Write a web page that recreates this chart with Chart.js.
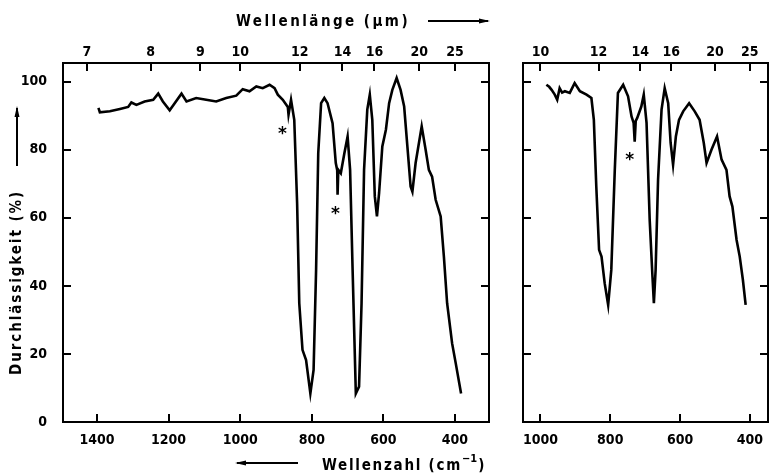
<!DOCTYPE html>
<html>
<head>
<meta charset="utf-8">
<script src="https://cdn.jsdelivr.net/npm/chart.js@4/dist/chart.umd.min.js"></script>
<style>
  html, body { margin: 0; padding: 0; background: #fff; }
  #wrap { position: relative; width: 769px; height: 474px; overflow: hidden; }
  canvas { position: absolute; top: 0; }
</style>
</head>
<body>
<div id="wrap">
  <canvas id="left" width="500" height="474" style="left:0"></canvas>
  <canvas id="right" width="269" height="474" style="left:500px"></canvas>
</div>
<script>
/* ---------- data ---------- */

// left spectrum: wavenumber (cm-1) / transmission (%)
const leftWavenumbers = [
  1396, 1392, 1364, 1336, 1313, 1304, 1290, 1267, 1243, 1229, 1216, 1197, 1183,
  1164, 1150, 1123, 1095, 1067, 1039, 1011, 993, 974, 955, 937, 918, 904, 895,
  881, 867, 865, 858, 849, 841, 835, 826, 816, 804, 795, 788, 782, 774, 765, 756,
  742, 733, 729, 728, 726, 719, 709, 700, 693, 686, 677, 668, 661, 654, 645, 638,
  631, 624, 618, 612, 603, 593, 584, 575, 563, 552, 542, 533, 524, 519, 510, 493,
  482, 473, 464, 454, 440, 431, 422, 408, 398, 383
];
const leftTransmission = [
  92.3, 91.0, 91.3, 92.0, 92.6, 93.9, 93.2, 94.2, 94.7, 96.5, 94.2, 91.6, 93.7,
  96.5, 94.2, 95.2, 94.7, 94.2, 95.2, 95.9, 97.8, 97.2, 98.6, 98.1, 99.1, 98.1, 96.2,
  94.7, 92.6, 90.3, 94.7, 88.8, 64.3, 34.9, 21.2, 18.2, 8.4, 15.3, 44.7, 79, 93.7, 95.2, 93.7,
  87.8, 76.1, 74, 66.8, 74.1, 73.1, 79, 83.9, 74.1, 44.7, 8.4, 10.4, 34.9, 74.1, 91.8, 96.2,
  88.8, 66.3, 60.4, 67.3, 81, 85.9, 93.7, 97.6, 101.1, 97.6, 92.7, 81, 69.2, 67.7, 76.1, 86.9,
  80, 74.1, 72.1, 65.3, 60.4, 48.6, 34.9, 23.1, 17.3, 8.4
];

// right spectrum
const rightWavenumbers = [
  983, 975, 968, 959, 952, 945, 938, 930, 916, 902, 887, 868, 854, 847, 840, 832,
  825, 816, 806, 797, 787, 778, 763, 749, 739, 733, 730, 727, 723, 711, 704, 696,
  687, 679, 675, 670, 663, 653, 644, 634, 627, 620, 612, 603, 591, 574, 558, 544,
  532, 524, 510, 494, 481, 467, 458, 450, 438, 429, 420, 412
];
const rightTransmission = [
  99.1, 98.5, 97.6, 96.2, 94.7, 98.1, 96.8, 97.2, 96.7, 99.6, 97.2, 96.2, 95.2, 88.8, 69.2, 50.6,
  48.6, 40.8, 34.4, 44.7, 74.1, 96.7, 99.1, 95.7, 89.8, 87.9, 82.4, 88.5, 89.3, 92.7, 96.2, 87.9,
  59.4, 42.7, 34.9, 44.7, 71.2, 91.8, 98.1, 93.7, 82, 75.6, 83.9, 88.8, 91.3, 93.7, 91.3, 88.8,
  82, 76.1, 80, 83.9, 77.1, 74.1, 66.3, 63.3, 53.5, 48.6, 41.8, 34.4
];

// asterisks marking artefact bands
const leftStarWavenumbers = [882, 734];
const leftStarValues = [85.5, 62];
const rightStarWavenumbers = [744];
const rightStarValues = [77.8];

// tick labels
const leftWavenumberTicks = [1400, 1200, 1000, 800, 600, 400];
const rightWavenumberTicks = [1000, 800, 600, 400];
const leftWavelengthTicks = [7, 8, 9, 10, 12, 14, 16, 20, 25];
const rightWavelengthTicks = [10, 12, 14, 16, 20, 25];
const percentTicks = [0, 20, 40, 60, 80, 100];

/* ---------- drawing helpers ---------- */

const FONT = '"DejaVu Sans Condensed", "Liberation Sans Narrow", "DejaVu Sans", sans-serif';

function fitText(ctx, text, x, y, width) {
  ctx.letterSpacing = '0px';
  const w = ctx.measureText(text).width;
  const ls = (width - w) / text.length;
  ctx.letterSpacing = ls + 'px';
  ctx.fillText(text, x, y);
  const out = ctx.measureText(text).width;
  ctx.letterSpacing = '0px';
  return out;
}

function arrow(ctx, x1, y1, x2, y2) {
  const a = Math.atan2(y2 - y1, x2 - x1);
  ctx.beginPath();
  ctx.moveTo(x1, y1);
  ctx.lineTo(x2, y2);
  ctx.stroke();
  ctx.beginPath();
  ctx.moveTo(x2 + Math.cos(a) * 2, y2 + Math.sin(a) * 2);
  ctx.lineTo(x2 - Math.cos(a) * 9 - Math.sin(a) * 2.5, y2 - Math.sin(a) * 9 + Math.cos(a) * 2.5);
  ctx.lineTo(x2 - Math.cos(a) * 9 + Math.sin(a) * 2.5, y2 - Math.sin(a) * 9 - Math.cos(a) * 2.5);
  ctx.closePath();
  ctx.fill();
}

// frame, inward ticks on all four sides, asterisks
const frameAndTicks = {
  id: 'frameAndTicks',
  afterDatasetsDraw(chart, args, opts) {
    const {ctx, chartArea: a, scales} = chart;
    ctx.save();
    ctx.strokeStyle = '#000';
    ctx.fillStyle = '#000';
    ctx.lineWidth = 2;
    ctx.strokeRect(a.left, a.top, a.right - a.left, a.bottom - a.top);

    const len = 8;
    ctx.beginPath();
    scales.x.ticks.forEach(t => {
      const px = Math.round(scales.x.getPixelForValue(t.value));
      ctx.moveTo(px, a.bottom);
      ctx.lineTo(px, a.bottom - len);
    });
    scales.x2.ticks.forEach(t => {
      const px = Math.round(scales.x2.getPixelForValue(t.value));
      ctx.moveTo(px, a.top);
      ctx.lineTo(px, a.top + len);
    });
    scales.y.ticks.forEach(t => {
      if (t.value === 0) return;
      const py = Math.round(scales.y.getPixelForValue(t.value));
      ctx.moveTo(a.left, py);
      ctx.lineTo(a.left + len, py);
      ctx.moveTo(a.right, py);
      ctx.lineTo(a.right - len, py);
    });
    ctx.stroke();

    ctx.font = 'bold 17px "DejaVu Sans", sans-serif';
    ctx.textAlign = 'center';
    ctx.textBaseline = 'alphabetic';
    opts.starX.forEach((wn, i) => {
      const px = scales.x.getPixelForValue(wn);
      const py = scales.y.getPixelForValue(opts.starY[i]);
      ctx.fillText('*', px, py + 8);
    });
    ctx.restore();
  }
};

// axis titles with their arrows (left panel only)
const axisTitles = {
  id: 'axisTitles',
  afterDraw(chart) {
    const ctx = chart.ctx;
    ctx.save();
    ctx.fillStyle = '#000';
    ctx.strokeStyle = '#000';
    ctx.lineWidth = 2;
    ctx.textBaseline = 'middle';
    ctx.textAlign = 'left';
    ctx.font = 'bold 15px ' + FONT;

    // top: wavelength
    fitText(ctx, 'Wellenlänge (µm)', 236, 22, 174);
    arrow(ctx, 428, 21, 488, 21);

    // bottom: wavenumber
    const w = fitText(ctx, 'Wellenzahl (cm', 322, 466, 140);
    ctx.font = 'bold 11px ' + FONT;
    ctx.fillText('−1', 322 + w, 459);
    const sw = ctx.measureText('−1').width;
    ctx.font = 'bold 15px ' + FONT;
    ctx.fillText(')', 322 + w + sw + 1, 466);
    arrow(ctx, 298, 463, 237, 463);

    // left: transmission
    ctx.translate(17, 375);
    ctx.rotate(-Math.PI / 2);
    fitText(ctx, 'Durchlässigkeit (%)', 0, 0, 185);
    ctx.setTransform(1, 0, 0, 1, 0, 0);
    arrow(ctx, 17, 166, 17, 108);
    ctx.restore();
  }
};

function makePanel(canvasId, cfg) {
  const tickFont = {family: FONT, size: 14, weight: 'bold'};
  const data = cfg.wn.map((v, i) => ({x: v, y: cfg.tr[i]}));
  return new Chart(document.getElementById(canvasId), {
    type: 'line',
    data: {
      datasets: [{
        data: data,
        xAxisID: 'x',
        yAxisID: 'y',
        borderColor: '#000',
        borderWidth: 2.6,
        pointRadius: 0,
        tension: 0,
        fill: false
      }]
    },
    options: {
      responsive: false,
      animation: false,
      layout: {padding: {left: 0, right: cfg.padRight, top: 0, bottom: 0}},
      plugins: {
        legend: {display: false},
        tooltip: {enabled: false},
        frameAndTicks: {starX: cfg.starX, starY: cfg.starY}
      },
      scales: {
        x: {
          type: 'linear',
          position: 'bottom',
          reverse: true,
          min: cfg.xMin,
          max: cfg.xMax,
          grid: {display: false},
          border: {display: false},
          ticks: {
            color: '#000', font: tickFont, padding: 2, autoSkip: false, maxRotation: 0,
            callback: v => String(v)
          },
          afterBuildTicks: s => { s.ticks = cfg.wnTicks.map(v => ({value: v})); },
          afterFit: s => { s.height = 474 - cfg.bottom; }
        },
        x2: {
          type: 'linear',
          position: 'top',
          reverse: true,
          min: cfg.xMin,
          max: cfg.xMax,
          grid: {display: false},
          border: {display: false},
          ticks: {
            color: '#000', font: tickFont, padding: -6, autoSkip: false, maxRotation: 0,
            callback: v => String(Math.round(10000 / v))
          },
          afterBuildTicks: s => { s.ticks = cfg.lamTicks.map(l => ({value: 10000 / l})); },
          afterFit: s => { s.height = 63; }
        },
        y: {
          type: 'linear',
          min: 0,
          max: 105.5,
          grid: {display: false},
          border: {display: false},
          ticks: {color: '#000', font: tickFont, padding: 8, display: cfg.yLabels, callback: v => String(v)},
          afterBuildTicks: s => { s.ticks = percentTicks.map(v => ({value: v})); },
          afterFit: s => { s.width = cfg.left; }
        }
      }
    },
    plugins: cfg.titles ? [frameAndTicks, axisTitles] : [frameAndTicks]
  });
}

makePanel('left', {
  wn: leftWavenumbers, tr: leftTransmission,
  starX: leftStarWavenumbers, starY: leftStarValues,
  wnTicks: leftWavenumberTicks, lamTicks: leftWavelengthTicks,
  xMin: 305, xMax: 1495, left: 63, padRight: 11, bottom: 422,
  yLabels: true, titles: true
});

makePanel('right', {
  wn: rightWavenumbers, tr: rightTransmission,
  starX: rightStarWavenumbers, starY: rightStarValues,
  wnTicks: rightWavenumberTicks, lamTicks: rightWavelengthTicks,
  xMin: 348, xMax: 1050, left: 23, padRight: 1, bottom: 422,
  yLabels: false, titles: false
});
</script>
</body>
</html>
